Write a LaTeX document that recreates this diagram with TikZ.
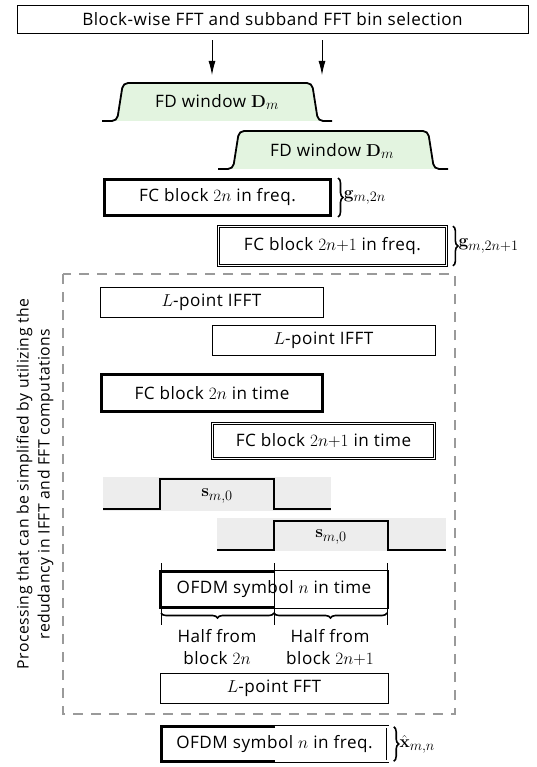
\documentclass[tikz,border=0pt]{standalone}
\usepackage{amsmath,amssymb}
\usepackage[no-math]{fontspec}
\setmainfont[Scale=0.9, LetterSpace=3]{Open Sans}
\usepackage{xcolor}
\usepackage{tikz}
\usetikzlibrary{arrows.meta}
\usetikzlibrary{decorations.pathreplacing}

\definecolor{winfill}{HTML}{E3F4E0}
\definecolor{sigfill}{HTML}{EDEDED}
\definecolor{dashgray}{HTML}{9A9A9A}

\begin{document}
\begin{tikzpicture}[
  x=1pt, y=-1pt,
  every node/.style={font=\fontsize{19}{22}\selectfont, inner sep=0pt},
  box/.style={draw, line width=0.9pt, rectangle},
  thickbox/.style={draw, line width=3pt, rectangle},
  dblbox/.style={draw, double, double distance=1.6pt, line width=0.8pt},
  window/.style={draw, line width=1.8pt, fill=winfill, rounded corners=5pt},
  sig/.style={line width=1.4pt},
  brc/.style={decorate, decoration={brace, amplitude=5pt}, line width=1.6pt},
  tick/.style={line width=0.6pt},
]
\tikzset{>={Latex[length=14pt, width=7pt]}}
\useasboundingbox (0,0) rectangle (536,767);

\node[box, minimum width=511pt, minimum height=28pt] (sel) at (272.5,19) {Block-wise FFT and subband FFT bin selection};
\coordinate (a1) at (212,75);
\coordinate (a2) at (322,75);
\draw[->, line width=0.9pt] ([yshift=-7pt]sel.south -| a1) -- (a1);
\draw[->, line width=0.9pt] ([yshift=-7pt]sel.south -| a2) -- (a2);

\filldraw[window] (102,121) -- (117,121) -- (123,83) -- (312,83) -- (318,121) -- (332,121);
\node (win1) at (217,102) {FD window $\mathbf{D}_m$};
\filldraw[window] (218,169) -- (233,169) -- (239,131) -- (428,131) -- (434,169) -- (448,169);
\node (win2) at (332,151) {FD window $\mathbf{D}_m$};

\node[thickbox, minimum width=226pt, minimum height=36pt] (fcf1) at (217.5,197.5) {FC block $2n$ in freq.};
\node[dblbox, minimum width=228pt, minimum height=39pt] (fcf2) at (332.5,246) {FC block $2n{+}1$ in freq.};
\draw[brc] ([xshift=6pt]fcf1.north east) -- ([xshift=6pt]fcf1.south east)
  node[midway, right=5pt] (g1) {$\mathbf{g}_{m,2n}$};
\draw[brc] ([xshift=6pt]fcf2.north east) -- ([xshift=6pt]fcf2.south east)
  node[midway, right=5pt] (g2) {$\mathbf{g}_{m,2n+1}$};

\draw[dashgray, line width=2.5pt, dash pattern=on 10pt off 8pt] (63,274) rectangle (455,714);
\node[rotate=90, align=center, font=\fontsize{17.5}{21}\selectfont] (note) at (35,484)
  {Processing that can be simplified by utilizing the\\redudancy in IFFT and FFT computations};

\node[box, minimum width=223pt, minimum height=30pt] (ifft1) at (211.5,302) {$L$-point IFFT};
\node[box, minimum width=223pt, minimum height=30pt] (ifft2) at (323.5,340) {$L$-point IFFT};
\node[thickbox, minimum width=221pt, minimum height=37pt] (fct1) at (212,393) {FC block $2n$ in time};
\node[dblbox, minimum width=222pt, minimum height=35pt] (fct2) at (323.5,441) {FC block $2n{+}1$ in time};

\fill[sigfill] (103,477) rectangle (331,511);
\draw[sig] (103,509) -- (160,509) -- (160,479) -- (274,479) -- (274,509) -- (331,509);
\node (s1) at (217,496) {$\mathbf{s}_{m,0}$};
\fill[sigfill] (217,518) rectangle (446,551);
\draw[sig] (217,550) -- (274,550) -- (274,521) -- (388,521) -- (388,550) -- (446,550);
\node (s2) at (331,537) {$\mathbf{s}_{m,0}$};

\node[minimum width=226pt, minimum height=35pt] (ofdmt) at (274,589.5) {OFDM symbol $n$ in time};
\draw[line width=3pt] (ofdmt.north) -- (ofdmt.north west) -- (ofdmt.south west) -- (ofdmt.south);
\draw[double, double distance=1.6pt, line width=0.8pt] (ofdmt.north) -- (ofdmt.north east) -- (ofdmt.south east) -- (ofdmt.south);
\coordinate (k1) at (161,563);
\coordinate (k2) at (274,563);
\coordinate (k3) at (387,563);
\coordinate (k1b) at (161,625);
\coordinate (k2b) at (274,625);
\coordinate (k3b) at (387,625);
\draw[tick] (k1) -- (k1b);
\draw[tick] (k2) -- (k2b);
\draw[tick] (k3) -- (k3b);
\draw[brc, decoration={mirror}] (161,613) -- (274,613);
\draw[brc, decoration={mirror}] (274,613) -- (387,613);
\node[align=center] (half1) at (217,647) {Half from\\block $2n$};
\node[align=center] (half2) at (330,647) {Half from\\block $2n{+}1$};

\node[box, minimum width=228pt, minimum height=30pt] (fft) at (274,688) {$L$-point FFT};

\node[minimum width=226pt, minimum height=34pt] (ofdmf) at (274.5,744) {OFDM symbol $n$ in freq.};
\draw[line width=3pt] (ofdmf.north) -- (ofdmf.north west) -- (ofdmf.south west) -- (ofdmf.south);
\draw[double, double distance=1.6pt, line width=0.8pt] (ofdmf.north) -- (ofdmf.north east) -- (ofdmf.south east) -- (ofdmf.south);
\draw[brc] ([xshift=6pt]ofdmf.north east) -- ([xshift=6pt]ofdmf.south east)
  node[midway, right=5pt] (xh) {$\hat{\mathbf{x}}_{m,n}$};
\end{tikzpicture}
\end{document}
